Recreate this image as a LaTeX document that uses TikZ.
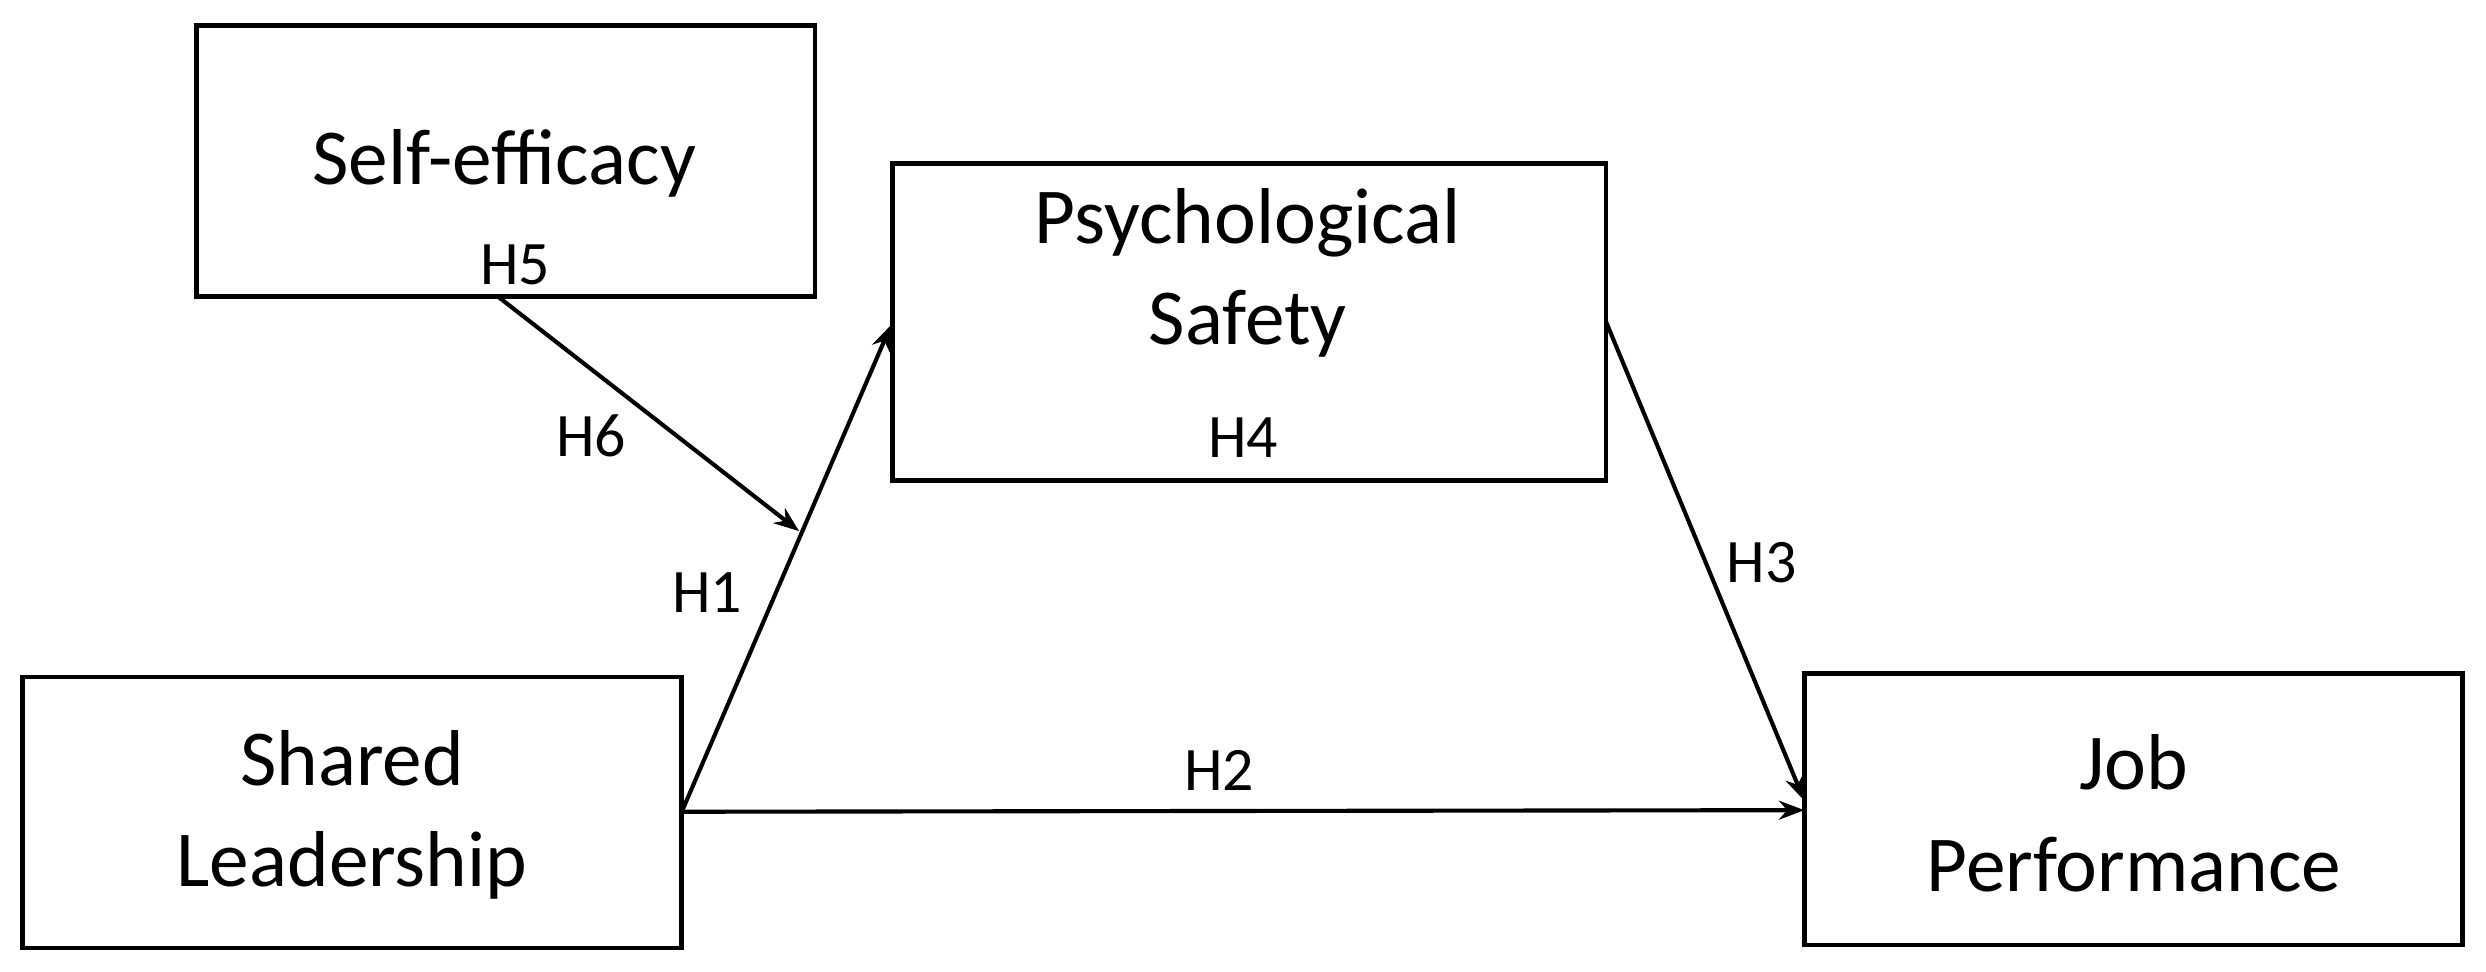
\documentclass[tikz,border=0pt]{standalone}
\usepackage{fontspec}
\setmainfont{Carlito}
\usetikzlibrary{arrows.meta}
\begin{document}
\begin{tikzpicture}[x=0.5pt,y=-0.5pt,
  box/.style={draw,line width=1.5pt,inner sep=0pt},
  txt/.style={font=\fontsize{25}{25}\selectfont,align=center},
  lab/.style={font=\fontsize{19.5}{19.5}\selectfont},
  arr/.style={line width=1.3pt,-{Stealth[length=8pt,width=6pt]}}]
\useasboundingbox (0,0) rectangle (1568,613);
\draw[box] (124,16) rectangle (514,187);
\draw[box] (563,103) rectangle (1013,303);
\draw[box] (14,427) rectangle (430,598);
\draw[box] (1138,425) rectangle (1553,596);
\node[txt] (se) at (318,103) {Self-efficacy};
\node[txt] (ps) at (787,172) {Psychological\\[7pt]Safety};
\node[txt] (sl) at (222,514) {Shared\\[7pt]Leadership};
\node[txt] (jp) at (1346,513) {Job\\[7pt]Performance};
\coordinate (a1) at (430,512);
\coordinate (b1) at (562,205);
\coordinate (b2) at (1138,511);
\coordinate (a3) at (1013,203);
\coordinate (b3) at (1138,505);
\coordinate (a6) at (314,187);
\coordinate (b6) at (504,335);
\draw[arr] (a1) -- (b1);
\draw[arr] (a1) -- (b2);
\draw[arr] (a3) -- (b3);
\draw[arr] (a6) -- (b6);
\node[lab] (h5) at (325,167) {H5};
\node[lab] (h6) at (373,275) {H6};
\node[lab] (h1) at (446,374) {H1};
\node[lab] (h4) at (784,276) {H4};
\node[lab] (h2) at (769,486) {H2};
\node[lab] (h3) at (1111,355) {H3};
\end{tikzpicture}
\end{document}
